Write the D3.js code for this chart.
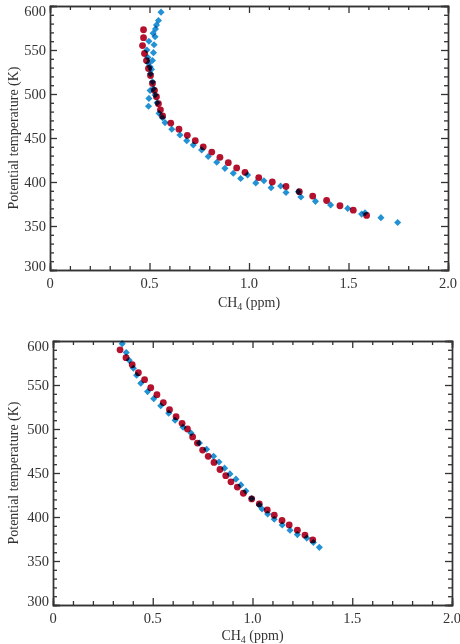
<!DOCTYPE html>
<html lang="en">
<head>
<meta charset="utf-8">
<script src="https://d3js.org/d3.v7.min.js"></script>
<style>
  body { margin: 0; background: #fff; }
  text { font-family: "Liberation Serif", "DejaVu Serif", serif; fill: #333; }
</style>
</head>
<body>
<div id="chart"></div>
<script>
// axis ticks
var xMajor = [0, 0.5, 1.0, 1.5, 2.0];
var xLabels = ["0", "0.5", "1.0", "1.5", "2.0"];
var yMajor = [300, 350, 400, 450, 500, 550, 600];

// top panel - red circles (CH4 ppm, theta K)
var topRedCH4 = [0.47, 0.47, 0.465, 0.475, 0.485, 0.495, 0.505, 0.515, 0.525, 0.535, 0.545, 0.555,
  0.566, 0.607, 0.648, 0.690, 0.730, 0.770, 0.813, 0.854, 0.896, 0.938, 0.980, 1.049, 1.117,
  1.186, 1.253, 1.320, 1.390, 1.457, 1.524, 1.591];
var topRedTheta = [573, 564, 555, 546, 538, 529, 521, 512, 504, 497, 489, 482,
  475, 467, 460, 453, 447, 440, 434, 428, 422, 416, 411, 405, 400,
  395, 389, 384, 379, 373, 368, 362];

// top panel - blue diamonds
var topBlueCH4 = [0.558, 0.545, 0.535, 0.530, 0.518, 0.528, 0.497, 0.523, 0.487, 0.520, 0.492, 0.515,
  0.495, 0.503, 0.510, 0.505, 0.515, 0.520, 0.503, 0.528, 0.497, 0.538, 0.495, 0.548, 0.565,
  0.578, 0.612, 0.653, 0.687, 0.720, 0.762, 0.795, 0.838, 0.879, 0.921, 0.958, 0.993, 1.034,
  1.075, 1.111, 1.159, 1.186, 1.248, 1.261, 1.334, 1.410, 1.496, 1.566, 1.583, 1.663, 1.747];
var topBlueTheta = [593, 583.5, 578.5, 574, 569, 565, 560, 556, 550, 547, 541.5, 538,
  535, 531, 528, 523, 514, 506, 504, 499, 495, 490, 486, 478, 473,
  467.5, 460, 453.5, 447, 442, 436.5, 429, 422.5, 415.5, 410, 404, 408, 399,
  401.5, 393.5, 395.5, 388, 389, 383, 378, 374, 370, 363.5, 365, 359.5, 354];

// bottom panel - red circles
var botRedCH4 = [0.336, 0.366, 0.397, 0.428, 0.459, 0.490, 0.521, 0.553, 0.584, 0.617, 0.647,
  0.674, 0.700, 0.724, 0.750, 0.778, 0.807, 0.837, 0.866, 0.892, 0.924, 0.954, 0.996, 1.034,
  1.074, 1.109, 1.148, 1.184, 1.225, 1.263, 1.302];
var botRedTheta = [590, 581, 573, 564, 556, 547, 539, 530, 522, 514, 506.5,
  500, 491, 484, 476, 469, 462, 454, 447, 440, 434, 427, 420.5, 415,
  408, 402, 396, 391, 385, 379.5, 374];

// bottom panel - blue diamonds
var botBlueCH4 = [0.347, 0.367, 0.382, 0.403, 0.419, 0.440, 0.474, 0.505, 0.540, 0.580, 0.612,
  0.652, 0.692, 0.734, 0.770, 0.805, 0.832, 0.860, 0.887, 0.917, 0.942, 0.967, 0.996, 1.034,
  1.048, 1.076, 1.109, 1.149, 1.188, 1.225, 1.272, 1.305, 1.335];
var botBlueTheta = [597, 587, 578, 569, 561, 552, 542.5, 534.5, 526.5, 518, 510,
  502, 495.5, 484, 477, 469, 462.5, 455.5, 449, 443, 436.5, 429.5, 421, 413.5,
  409, 403.5, 397.5, 391, 385, 380, 376, 371, 365.5];

var width = 460, height = 644;
var red = "#b3112e", blue = "#2392d4";

var svg = d3.select("#chart").append("svg")
  .attr("width", width)
  .attr("height", height);

function zip(xs, ys) {
  return xs.map(function (x, i) { return { x: x, y: ys[i] }; });
}

function panel(box, redPts, bluePts, titleY) {
  var x = d3.scaleLinear().domain([0, 2]).range([box.left, box.right]);
  var y = d3.scaleLinear().domain([300, 600]).range([box.bottom, box.top]);
  var g = svg.append("g");

  var xMinor = d3.range(0, 2.001, 0.1).filter(function (v) { return Math.abs(v * 2 - Math.round(v * 2)) > 1e-6; });
  var yMinor = d3.range(300, 601, 10).filter(function (v) { return v % 50 !== 0; });

  function addAxis(gen, tr, vals, size) {
    var a = g.append("g").attr("transform", tr)
      .call(gen.tickValues(vals).tickSize(-size).tickFormat(""));
    a.select(".domain").attr("stroke", "#333").attr("stroke-width", 1.4);
    a.selectAll(".tick line").attr("stroke", "#333").attr("stroke-width", 1.3);
  }
  addAxis(d3.axisBottom(x), "translate(0," + box.bottom + ")", xMajor, 7);
  addAxis(d3.axisBottom(x), "translate(0," + box.bottom + ")", xMinor, 4);
  addAxis(d3.axisTop(x), "translate(0," + box.top + ")", xMajor, 7);
  addAxis(d3.axisTop(x), "translate(0," + box.top + ")", xMinor, 4);
  addAxis(d3.axisLeft(y), "translate(" + box.left + ",0)", yMajor, 7);
  addAxis(d3.axisLeft(y), "translate(" + box.left + ",0)", yMinor, 4);
  addAxis(d3.axisRight(y), "translate(" + box.right + ",0)", yMajor, 7);
  addAxis(d3.axisRight(y), "translate(" + box.right + ",0)", yMinor, 4);

  // tick labels
  g.selectAll(".xl").data(xMajor).enter().append("text")
    .attr("x", function (d) { return x(d); })
    .attr("y", box.bottom + 18)
    .attr("text-anchor", "middle")
    .style("font-size", "14.5px")
    .text(function (d, i) { return xLabels[i]; });
  g.selectAll(".yl").data(yMajor).enter().append("text")
    .attr("x", box.left - 4)
    .attr("y", function (d) {
      var off = d === 600 ? 5 : (d === 300 ? -4 : 0);
      return y(d) + off;
    })
    .attr("dy", "0.35em")
    .attr("text-anchor", "end")
    .style("font-size", "14.5px")
    .text(function (d) { return d; });

  // axis titles
  var xt = g.append("text")
    .attr("x", (box.left + box.right) / 2)
    .attr("y", titleY)
    .attr("text-anchor", "middle")
    .style("font-size", "14px");
  xt.append("tspan").text("CH");
  xt.append("tspan").attr("dy", 3).style("font-size", "10px").text("4");
  xt.append("tspan").attr("dy", -3).text(" (ppm)");

  g.append("text")
    .attr("transform", "translate(13," + (box.top + box.bottom) / 2 + ") rotate(-90)")
    .attr("text-anchor", "middle")
    .attr("dy", "0.35em")
    .style("font-size", "14px")
    .text("Potential temperature (K)");

  // red circles
  g.selectAll(".r").data(redPts).enter().append("circle")
    .attr("cx", function (d) { return x(d.x); })
    .attr("cy", function (d) { return y(d.y); })
    .attr("r", 3.4)
    .attr("fill", red);

  // blue diamonds
  g.selectAll(".b").data(bluePts).enter().append("path")
    .attr("d", d3.symbol().type(d3.symbolDiamond2).size(32))
    .attr("transform", function (d) { return "translate(" + x(d.x) + "," + y(d.y) + ")"; })
    .attr("fill", blue)
    .style("mix-blend-mode", "multiply");
}

panel({ left: 50, right: 448, top: 6, bottom: 270 },
  zip(topRedCH4, topRedTheta), zip(topBlueCH4, topBlueTheta), 307);
panel({ left: 53, right: 452, top: 341, bottom: 605 },
  zip(botRedCH4, botRedTheta), zip(botBlueCH4, botBlueTheta), 640);
</script>
</body>
</html>
